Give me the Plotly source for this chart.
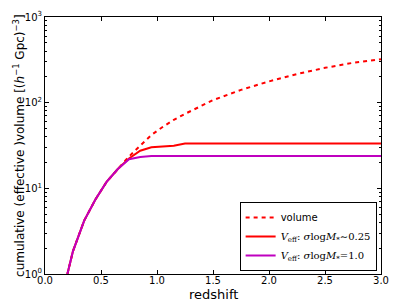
import plotly.graph_objects as go

z = [0.2, 0.25, 0.35, 0.45, 0.55, 0.65, 0.75, 0.85, 0.95, 1.05, 1.15, 1.25,
     1.5, 1.75, 2.0, 2.25, 2.5, 2.75, 3.0]
volume = [1.0, 1.85, 4.2, 7.4, 11.9, 16.8, 23.5, 31.5, 42, 52, 63, 74,
          107, 141, 177, 216, 255, 292, 322]
veff_025 = [1.0, 1.85, 4.2, 7.4, 11.9, 16.8, 22.3, 27.5, 30.2, 30.8, 31.4, 33.4,
            33.4, 33.4, 33.4, 33.4, 33.4, 33.4, 33.4]
veff_10 = [1.0, 1.85, 4.2, 7.4, 11.9, 16.8, 21.9, 23.2, 23.8, 23.9, 23.9, 23.9,
           23.9, 23.9, 23.9, 23.9, 23.9, 23.9, 23.9]

y_major = [1, 10, 100, 1000]
y_major_text = ["10<sup>0</sup>", "10<sup>1</sup>", "10<sup>2</sup>", "10<sup>3</sup>"]
y_minor = [m * d for d in (1, 10, 100) for m in range(2, 10)]
x_ticks = [0.0, 0.5, 1.0, 1.5, 2.0, 2.5, 3.0]

names = ['<span style="font-family:DejaVu Sans">volume</span>',
         "<i>V</i><sub>eff</sub>: <i>σ</i>log<i>M</i><sub>*</sub>∼0.25",
         "<i>V</i><sub>eff</sub>: <i>σ</i>log<i>M</i><sub>*</sub>=1.0"]

fig = go.Figure()
fig.add_trace(go.Scatter(x=z, y=volume, mode="lines", name=names[0],
                         line=dict(color="#ff0000", width=2, dash="4px,4px")))
fig.add_trace(go.Scatter(x=z, y=veff_025, mode="lines", name=names[1],
                         line=dict(color="#ff0000", width=2)))
fig.add_trace(go.Scatter(x=z, y=veff_10, mode="lines", name=names[2],
                         line=dict(color="#bf00bf", width=2)))

axis_common = dict(showline=True, linecolor="black", linewidth=1, mirror="allticks",
                   ticks="inside", tickcolor="black", ticklen=4, showgrid=False,
                   zeroline=False, tickfont=dict(family="DejaVu Sans", size=10, color="black"))

fig.update_layout(
    width=399, height=304,
    margin=dict(l=45, r=12, t=10, b=30),
    paper_bgcolor="white", plot_bgcolor="white",
    font=dict(family="DejaVu Sans", color="black"),
    xaxis=dict(range=[0, 3], tickmode="array", tickvals=x_ticks,
               ticktext=[f"{v:.1f}" for v in x_ticks], ticklabelstandoff=-3,
               **axis_common),
    yaxis=dict(type="log", range=[0, 3], tickmode="array", tickvals=y_major,
               ticktext=y_major_text,
               minor=dict(tickmode="array", tickvals=y_minor, ticks="inside",
                          ticklen=2, tickcolor="black", showgrid=False),
               **axis_common),
    legend=dict(x=0.987, y=0.012, xanchor="right", yanchor="bottom",
                bordercolor="black", borderwidth=1, bgcolor="white",
                font=dict(family="DejaVu Serif", size=10), tracegroupgap=0,
                itemwidth=30),
    showlegend=True,
    annotations=[
        dict(text="redshift", x=0.5, y=-0.08, xref="paper", yref="paper",
             xanchor="center", yanchor="middle", showarrow=False,
             font=dict(size=13, family="DejaVu Sans", color="black")),
        dict(text="cumulative (effective )volume [(<i>h</i><sup>−1</sup> Gpc)<sup>−3</sup>]",
             x=-0.079, y=0.5, xref="paper", yref="paper", textangle=-90,
             xanchor="center", yanchor="middle", showarrow=False,
             font=dict(size=12, family="DejaVu Sans", color="black")),
    ],
)

fig.write_html("out.html", config={"displayModeBar": False},
               post_script="document.body.style.margin='0px';")
